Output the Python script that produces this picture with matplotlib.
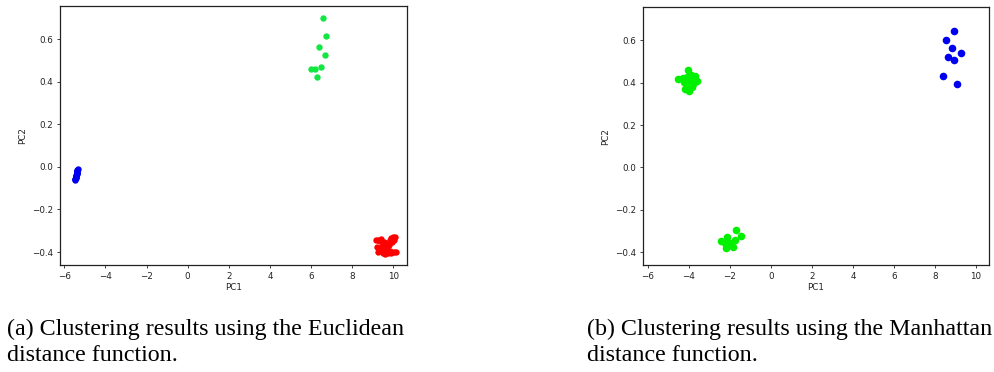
import matplotlib
matplotlib.use("Agg")
import matplotlib.pyplot as plt

# ---- Data: (a) Euclidean ----
a_green_x = [6.56, 6.71, 6.40, 6.68, 6.51, 6.00, 6.19, 6.27]
a_green_y = [0.699, 0.616, 0.562, 0.526, 0.470, 0.459, 0.461, 0.423]

a_blue_x = [-5.35, -5.36, -5.37, -5.37, -5.38, -5.39, -5.40, -5.41, -5.42, -5.43,
            -5.44, -5.45, -5.46, -5.47, -5.48, -5.36, -5.40, -5.44]
a_blue_y = [-0.012, -0.015, -0.018, -0.022, -0.026, -0.029, -0.033, -0.037, -0.041, -0.045,
            -0.049, -0.053, -0.056, -0.059, -0.062, -0.020, -0.030, -0.050]

a_red_x = [9.16, 9.25, 9.35, 9.22, 9.30, 9.28, 9.40, 9.45, 9.50, 9.55, 9.60, 9.65,
           9.70, 9.75, 9.80, 9.85, 9.90, 10.05, 10.12, 9.85, 9.90, 10.00, 10.10,
           9.95, 10.05, 9.40, 9.55, 9.65]
a_red_y = [-0.345, -0.345, -0.350, -0.375, -0.385, -0.400, -0.395, -0.370, -0.405,
           -0.385, -0.410, -0.395, -0.375, -0.405, -0.365, -0.395, -0.405, -0.400,
           -0.402, -0.345, -0.335, -0.330, -0.328, -0.355, -0.345, -0.340, -0.355,
           -0.360]

# ---- Data: (b) Manhattan ----
b_blue_x = [8.94, 8.57, 8.86, 8.62, 9.28, 8.96, 8.39, 9.10]
b_blue_y = [0.643, 0.602, 0.562, 0.523, 0.539, 0.506, 0.430, 0.394]

b_green_x = [-4.06, -4.55, -4.25, -4.10, -3.95, -3.73, -3.62, -3.80, -4.20, -3.98,
             -3.85, -4.15, -3.90, -4.30,
             -1.70, -1.44, -1.75, -2.16, -2.44, -2.21, -1.85, -2.00, -2.25]
b_green_y = [0.458, 0.416, 0.405, 0.425, 0.415, 0.430, 0.406, 0.395, 0.368, 0.360,
             0.380, 0.395, 0.435, 0.420,
             -0.296, -0.324, -0.343, -0.328, -0.348, -0.380, -0.378, -0.359, -0.355]

xticks = [-6, -4, -2, 0, 2, 4, 6, 8, 10]
yticks = [-0.4, -0.2, 0.0, 0.2, 0.4, 0.6]
caption_a = ["(a) Clustering results using the Euclidean", "distance function."]
caption_b = ["(b) Clustering results using the Manhattan", "distance function."]

W, H = 995, 372
fig = plt.figure(figsize=(W / 100, H / 100), dpi=100)

def style(ax, xlim, ylim):
    ax.set_xlim(*xlim)
    ax.set_ylim(*ylim)
    ax.set_xticks(xticks)
    ax.set_yticks(yticks)
    ax.set_yticklabels([f"{v:.1f}".replace("-", "\u2212") for v in yticks])
    ax.tick_params(labelsize=6.3, length=2.5, width=0.6, pad=2.2, colors="#222222")
    for s in ax.spines.values():
        s.set_linewidth(0.9)
        s.set_color("#222222")
    ax.set_xlabel("PC1", fontsize=6.3, labelpad=1.5, color="#222222")
    ax.set_ylabel("PC2", fontsize=6.3, labelpad=3.5, color="#222222")

ax1 = fig.add_axes([60 / W, (H - 265) / H, 347 / W, 259 / H])
ax1.scatter(a_green_x, a_green_y, s=21, color="#12e640", linewidths=0)
ax1.scatter(a_blue_x, a_blue_y, s=21, color="#0000f0", linewidths=0)
ax1.scatter(a_red_x, a_red_y, s=21, color="#ff0000", linewidths=0)
style(ax1, (-6.21, 10.67), (-0.461, 0.755))

ax2 = fig.add_axes([642.7 / W, (H - 265) / H, 346 / W, 257.7 / H])
ax2.scatter(b_blue_x, b_blue_y, s=30, color="#0000f0", linewidths=0)
ax2.scatter(b_green_x, b_green_y, s=30, color="#00f000", linewidths=0)
style(ax2, (-6.26, 10.63), (-0.461, 0.756))

cap_kw = dict(fontsize=17.3, family="Liberation Serif", va="baseline", ha="left", color="black")
fig.text(7 / W, (H - 335) / H, caption_a[0], **cap_kw)
fig.text(7 / W, (H - 361) / H, caption_a[1], **cap_kw)
fig.text(587 / W, (H - 335) / H, caption_b[0], **cap_kw)
fig.text(587 / W, (H - 361) / H, caption_b[1], **cap_kw)

fig.savefig("out.png", dpi=100)
